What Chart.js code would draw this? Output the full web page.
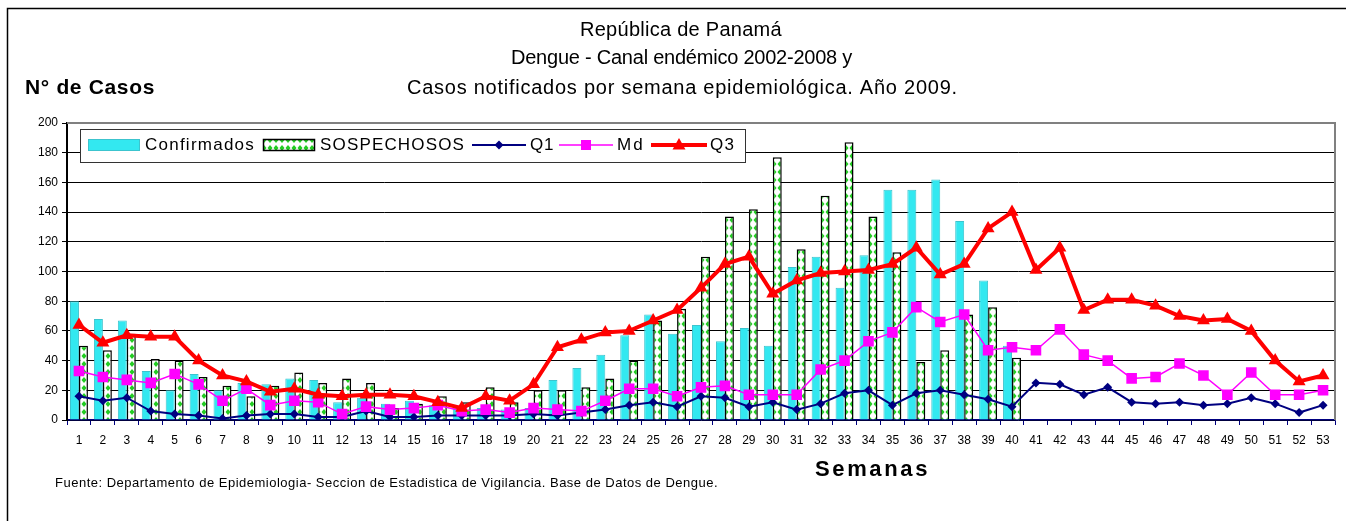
<!DOCTYPE html>
<html>
<head>
<meta charset="utf-8">
<script src="https://cdn.jsdelivr.net/npm/chart.js@4.4.0/dist/chart.umd.min.js"></script>
<style>
  html, body { margin: 0; padding: 0; background: #fff; }
  canvas { display: block; }
</style>
</head>
<body>
<canvas id="canalChart" width="1346" height="521"></canvas>
<script>
// Dengue - canal endemico, Panama 2009

const weeks = ['1','2','3','4','5','6','7','8','9','10','11','12','13','14','15','16','17','18','19','20',
    '21','22','23','24','25','26','27','28','29','30','31','32','33','34','35','36','37','38','39','40',
    '41','42','43','44','45','46','47','48','49','50','51','52','53'];

const confirmados = [80, 68, 67, 33, 20, 31, 20, 25, 24, 28, 27, 12, 15, 11, 13, 10, 9, 8, 7, 8,
    27, 35, 44, 57, 71, 58, 64, 53, 62, 50, 103, 110, 89, 111, 155, 155, 162, 134, 94, 50];

const sospechosos = [50, 47, 58, 41, 40, 29, 23, 16, 23, 32, 25, 28, 25, 8, 11, 16, 12, 22, 12, 20,
    20, 22, 28, 40, 67, 75, 110, 137, 142, 177, 115, 151, 187, 137, 113, 39, 47, 71, 76, 42];

const q1 = [16, 13, 15, 6, 4, 3, 1, 3, 4, 4, 2, 2, 6, 2, 2, 3, 3, 3, 3, 4,
    3, 5, 7, 10, 12, 9, 16, 15, 9, 12, 7, 11, 18, 20, 10, 18, 20, 17, 14, 9,
    25, 24, 17, 22, 12, 11, 12, 10, 11, 15, 11, 5, 10];

const md = [33, 29, 27, 25, 31, 24, 13, 21, 10, 13, 12, 4, 9, 7, 8, 10, 6, 7, 5, 8,
    7, 6, 13, 21, 21, 16, 22, 23, 17, 17, 17, 34, 40, 53, 59, 76, 66, 71, 47, 49,
    47, 61, 44, 40, 28, 29, 38, 30, 17, 32, 17, 17, 20];

const q3 = [64, 52, 57, 56, 56, 40, 30, 26, 19, 21, 17, 16, 17, 17, 16, 12, 8, 16, 13, 24,
    49, 54, 59, 60, 67, 74, 89, 105, 110, 85, 94, 99, 100, 101, 105, 116, 98, 105, 129, 140,
    101, 116, 74, 81, 81, 77, 70, 67, 68, 60, 40, 26, 30];

const yTicks = [0, 20, 40, 60, 80, 100, 120, 140, 160, 180, 200];

const FONT = "'Liberation Sans', Arial, sans-serif";
const CYAN = 'rgb(51, 232, 240)';
const CYAN_EDGE = 'rgb(60, 196, 206)';
const NAVY = '#000080';
const MAGENTA = '#FF00FF';
const RED = '#FF0000';

const ctx = document.getElementById('canalChart').getContext('2d');

// white with small green bow-ties, like the excel fill
function makeSospPattern() {
    const tile = document.createElement('canvas');
    tile.width = 6;
    tile.height = 8;
    const g = tile.getContext('2d');
    g.fillStyle = '#fff';
    g.fillRect(0, 0, 6, 8);
    g.fillStyle = '#22CC22';
    g.beginPath(); g.moveTo(0, 1); g.lineTo(2.5, 4); g.lineTo(0, 7); g.closePath(); g.fill();
    g.beginPath(); g.moveTo(6, 1); g.lineTo(3.5, 4); g.lineTo(6, 7); g.closePath(); g.fill();
    return ctx.createPattern(tile, 'repeat');
}
const sospPattern = makeSospPattern();

// draw text starting at x, spread to a given width
function spreadText(c, text, font, x, y, width) {
    c.font = font;
    c.letterSpacing = '0px';
    const w = c.measureText(text).width;
    const extra = (width - w) / text.length;
    c.letterSpacing = extra.toFixed(2) + 'px';
    c.textAlign = 'left';
    c.textBaseline = 'middle';
    c.fillText(text, x, y);
    c.letterSpacing = '0px';
}

function drawMarker(c, style, x, y, color) {
    c.fillStyle = color;
    c.beginPath();
    if (style === 'diamond') {
        c.moveTo(x, y - 4.5); c.lineTo(x + 4.5, y); c.lineTo(x, y + 4.5); c.lineTo(x - 4.5, y);
    } else if (style === 'square') {
        c.rect(x - 5, y - 5, 10, 10);
    } else {
        c.moveTo(x, y - 7); c.lineTo(x + 6.5, y + 4.5); c.lineTo(x - 6.5, y + 4.5);
    }
    c.closePath();
    c.fill();
}

const decorPlugin = {
    id: 'decor',
    beforeDraw(chart) {
        const c = chart.ctx;
        c.save();
        c.fillStyle = '#fff';
        c.fillRect(0, 0, chart.width, chart.height);
        c.restore();
    },
    afterDraw(chart) {
        const c = chart.ctx;
        const a = chart.chartArea;
        c.save();

        // plot area frame (top / right), grey
        c.strokeStyle = '#808080';
        c.lineWidth = 2;
        c.beginPath();
        c.moveTo(a.left, a.top);
        c.lineTo(a.right, a.top);
        c.lineTo(a.right, a.bottom);
        c.stroke();

        // outer frame
        c.strokeStyle = '#000';
        c.lineWidth = 1.5;
        c.beginPath();
        c.moveTo(7.5, chart.height);
        c.lineTo(7.5, 8.5);
        c.lineTo(chart.width, 8.5);
        c.stroke();

        // titles
        c.fillStyle = '#000';
        spreadText(c, 'República de Panamá', '20px ' + FONT, 580, 30, 202);
        spreadText(c, 'Dengue - Canal endémico 2002-2008 y', '20px ' + FONT, 511, 58, 341);
        spreadText(c, 'Casos notificados por semana epidemiológica. Año 2009.', '20px ' + FONT, 407, 88, 551);
        spreadText(c, 'N° de Casos', 'bold 21px ' + FONT, 25, 88, 130);
        spreadText(c, 'Semanas', 'bold 22px ' + FONT, 815, 470, 115);
        spreadText(c, 'Fuente: Departamento de Epidemiologia- Seccion de Estadistica de Vigilancia. Base de Datos de Dengue.',
            '13px ' + FONT, 55, 483, 663);

        // legend box
        const ly = 145;
        c.fillStyle = '#fff';
        c.fillRect(80, 129, 665, 33);
        c.strokeStyle = '#333';
        c.lineWidth = 1;
        c.strokeRect(80.5, 129.5, 665, 33);

        c.fillStyle = CYAN;
        c.fillRect(88, ly - 6, 52, 12);
        c.strokeStyle = CYAN_EDGE;
        c.strokeRect(88.5, ly - 5.5, 51, 11);

        c.fillStyle = sospPattern;
        c.fillRect(263, ly - 6, 52, 12);
        c.strokeStyle = '#000';
        c.lineWidth = 1.5;
        c.strokeRect(263.5, ly - 5.5, 51, 11);

        c.lineWidth = 2;
        c.strokeStyle = NAVY;
        c.beginPath(); c.moveTo(472, ly); c.lineTo(526, ly); c.stroke();
        drawMarker(c, 'diamond', 499, ly, NAVY);

        c.lineWidth = 1.5;
        c.strokeStyle = MAGENTA;
        c.beginPath(); c.moveTo(559, ly); c.lineTo(613, ly); c.stroke();
        drawMarker(c, 'square', 586, ly, MAGENTA);

        c.lineWidth = 4;
        c.strokeStyle = RED;
        c.beginPath(); c.moveTo(651, ly); c.lineTo(707, ly); c.stroke();
        drawMarker(c, 'triangle', 679, ly, RED);

        c.fillStyle = '#000';
        spreadText(c, 'Confirmados', '17px ' + FONT, 145, ly, 110);
        spreadText(c, 'SOSPECHOSOS', '17px ' + FONT, 320, ly, 145);
        spreadText(c, 'Q1', '17px ' + FONT, 530, ly, 24);
        spreadText(c, 'Md', '17px ' + FONT, 617, ly, 28);
        spreadText(c, 'Q3', '17px ' + FONT, 710, ly, 25);

        c.restore();
    }
};

new Chart(ctx, {
    type: 'bar',
    data: {
        labels: weeks,
        datasets: [
            {
                type: 'line',
                label: 'Q3',
                data: q3,
                borderColor: RED,
                backgroundColor: RED,
                borderWidth: 4,
                pointStyle: 'triangle',
                pointRadius: 7.5,
                pointBorderWidth: 0,
                tension: 0,
                order: 1
            },
            {
                type: 'line',
                label: 'Md',
                data: md,
                borderColor: MAGENTA,
                backgroundColor: MAGENTA,
                borderWidth: 1.5,
                pointStyle: 'rect',
                pointRadius: 7.5,
                pointBorderWidth: 0,
                tension: 0,
                order: 2
            },
            {
                type: 'line',
                label: 'Q1',
                data: q1,
                borderColor: NAVY,
                backgroundColor: NAVY,
                borderWidth: 2,
                pointStyle: 'rectRot',
                pointRadius: 4.5,
                pointBorderWidth: 0,
                tension: 0,
                order: 3
            },
            {
                label: 'Confirmados',
                data: confirmados,
                backgroundColor: CYAN,
                borderColor: CYAN_EDGE,
                borderWidth: 1,
                categoryPercentage: 0.75,
                barPercentage: 1.0,
                order: 10
            },
            {
                label: 'SOSPECHOSOS',
                data: sospechosos,
                backgroundColor: sospPattern,
                borderColor: '#000',
                borderWidth: 1.5,
                categoryPercentage: 0.75,
                barPercentage: 1.0,
                order: 10
            }
        ]
    },
    options: {
        responsive: false,
        devicePixelRatio: 1,
        animation: false,
        layout: {
            padding: { left: 27, top: 123, right: 11, bottom: 71 }
        },
        plugins: {
            legend: { display: false },
            title: { display: false },
            tooltip: { enabled: false }
        },
        scales: {
            x: {
                grid: {
                    drawOnChartArea: false,
                    drawTicks: true,
                    tickLength: 5,
                    color: NAVY,
                    offset: true
                },
                border: { color: NAVY, width: 1.5 },
                ticks: {
                    font: { family: FONT, size: 12 },
                    color: '#000',
                    padding: 8,
                    autoSkip: false,
                    maxRotation: 0
                },
                afterFit(scale) { scale.height = 30; }
            },
            y: {
                min: 0,
                max: 200,
                afterBuildTicks(scale) {
                    scale.ticks = yTicks.map(v => ({ value: v }));
                },
                grid: {
                    color: '#000',
                    lineWidth: 1,
                    tickLength: 5,
                    drawTicks: true
                },
                border: { color: '#000', width: 2 },
                ticks: {
                    font: { family: FONT, size: 12 },
                    color: '#000',
                    padding: 4
                },
                afterFit(scale) { scale.width = 40; }
            }
        }
    },
    plugins: [decorPlugin]
});
</script>
</body>
</html>
